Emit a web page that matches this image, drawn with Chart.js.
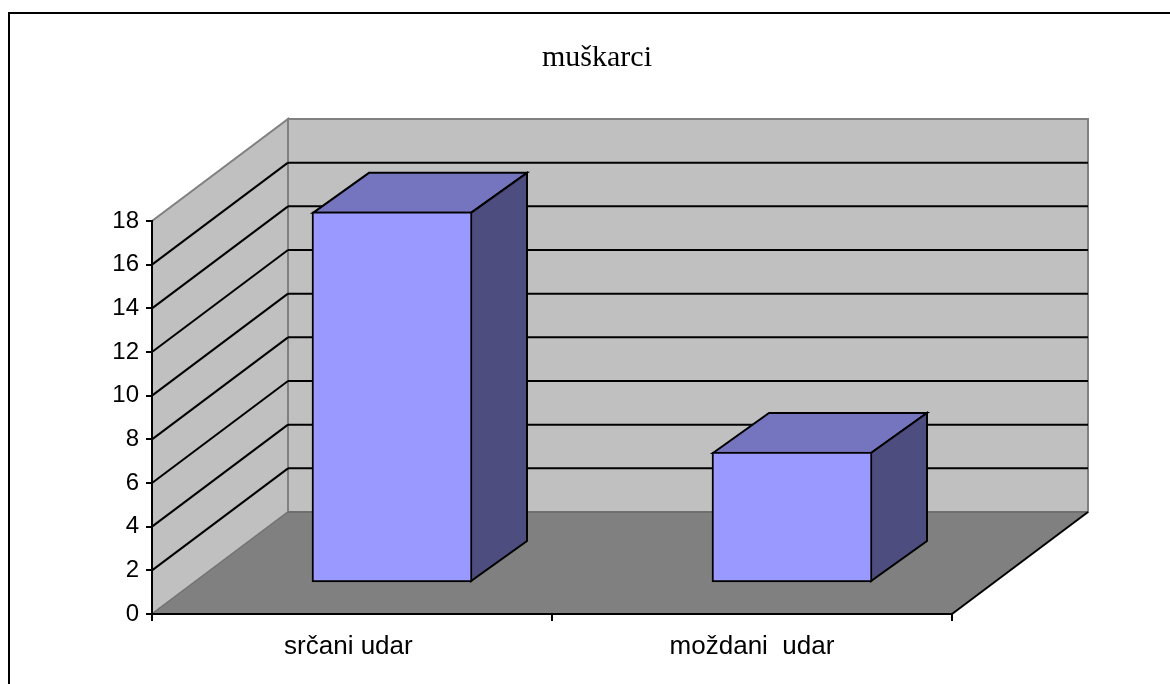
<!DOCTYPE html>
<html>
<head>
<meta charset="utf-8">
<title>muškarci</title>
<script src="https://cdn.jsdelivr.net/npm/chart.js@4"></script>
<style>
  html, body { margin: 0; padding: 0; background: #fff; overflow: hidden; }
  canvas { display: block; }
</style>
</head>
<body>
<canvas id="chart" width="1170" height="684"></canvas>
<script>
// Podaci
const categories = ['srčani udar ', 'moždani  udar'];
const values = [17, 6];
const chartTitle = 'muškarci';

// Pomaci za 3D izgled (dubina poda, pomak stupca, dubina stupca)
const floorDepth = { x: 136, y: -102 };
const barOffset = { x: 40, y: -31 };
const barDepth = { x: 56, y: -40 };

function poly(ctx, pts, fill, stroke, width) {
    ctx.beginPath();
    pts.forEach((p, i) => i ? ctx.lineTo(p[0], p[1]) : ctx.moveTo(p[0], p[1]));
    ctx.closePath();
    if (fill) { ctx.fillStyle = fill; ctx.fill(); }
    if (stroke) { ctx.strokeStyle = stroke; ctx.lineWidth = width; ctx.stroke(); }
}

function line(ctx, x1, y1, x2, y2, color, width) {
    ctx.beginPath();
    ctx.moveTo(x1, y1);
    ctx.lineTo(x2, y2);
    ctx.strokeStyle = color;
    ctx.lineWidth = width;
    ctx.stroke();
}

// Zidovi, pod i okvir se crtaju prije osi
const wallsPlugin = {
    id: 'walls',
    beforeDraw(chart) {
        const ctx = chart.ctx;
        const a = chart.chartArea;
        const y = chart.scales.y;
        const dx = floorDepth.x, dy = floorDepth.y;
        ctx.save();
        ctx.fillStyle = '#fff';
        ctx.fillRect(0, 0, chart.width, chart.height);

        // okvir
        line(ctx, 9, 13, 9, chart.height, '#000', 2);
        line(ctx, 8, 13, chart.width, 13, '#000', 2);

        // stražnji i lijevi zid
        poly(ctx, [[a.left + dx, a.top + dy], [a.right + dx, a.top + dy], [a.right + dx, a.bottom + dy], [a.left + dx, a.bottom + dy]], '#C0C0C0', '#808080', 2);
        poly(ctx, [[a.left, a.bottom], [a.left + dx, a.bottom + dy], [a.left + dx, a.top + dy], [a.left, a.top]], '#C0C0C0', '#808080', 2);

        // linije mreže
        y.ticks.forEach(t => {
            if (t.value === y.min || t.value === y.max) return;
            const py = y.getPixelForValue(t.value);
            line(ctx, a.left, py, a.left + dx, py + dy, '#000', 2);
            line(ctx, a.left + dx, py + dy, a.right + dx, py + dy, '#000', 2);
        });

        // pod
        poly(ctx, [[a.left, a.bottom], [a.left + dx, a.bottom + dy], [a.right + dx, a.bottom + dy], [a.right, a.bottom]], '#808080', null, 0);
        line(ctx, a.left, a.bottom, a.left + dx, a.bottom + dy, '#6e6e6e', 1);
        line(ctx, a.left + dx, a.bottom + dy, a.right + dx, a.bottom + dy, '#6e6e6e', 2);
        line(ctx, a.right, a.bottom, a.right + dx, a.bottom + dy, '#000', 2);
        ctx.restore();
    },
    // Stupci stoje dublje na podu, pa se cijeli sloj pomakne
    beforeDatasetsDraw(chart) {
        const ctx = chart.ctx;
        ctx.save();
        ctx.translate(barOffset.x, barOffset.y);
        chart.getDatasetMeta(0).data.forEach(bar => {
            const l = bar.x - bar.width / 2 + 1, r = bar.x + bar.width / 2 - 1;
            const t = bar.y + 1, b = bar.base - 1;
            const dx = barDepth.x, dy = barDepth.y;
            ctx.lineJoin = 'miter';
            poly(ctx, [[l, t], [l + dx, t + dy], [r + dx, t + dy], [r, t]], '#7575BF', '#000', 2);
            poly(ctx, [[r, t], [r + dx, t + dy], [r + dx, b + dy], [r, b]], '#4D4D80', '#000', 2);
        });
    },
    afterDatasetsDraw(chart) {
        chart.ctx.restore();
    }
};

new Chart(document.getElementById('chart').getContext('2d'), {
    type: 'bar',
    data: {
        labels: categories,
        datasets: [{
            data: values,
            backgroundColor: '#9999FF',
            borderColor: '#000',
            borderWidth: 2,
            borderSkipped: false,
            barThickness: 160,
            clip: false
        }]
    },
    options: {
        responsive: false,
        animation: false,
        layout: { padding: { left: 24, right: 0, top: 0, bottom: 0 } },
        plugins: {
            legend: { display: false },
            tooltip: { enabled: false },
            title: {
                display: true,
                text: chartTitle,
                color: '#000',
                font: { family: '"Liberation Serif", serif', size: 30, weight: 'normal', lineHeight: 1.2 },
                padding: { top: 40, bottom: 145 }
            }
        },
        scales: {
            x: {
                grid: { drawOnChartArea: false, drawTicks: true, tickLength: 7, color: '#000', lineWidth: 2 },
                border: { color: '#000', width: 2 },
                ticks: { color: '#000', padding: 10, font: { family: '"Liberation Sans", sans-serif', size: 26 }, maxRotation: 0 },
                afterFit(scale) { scale.height = 70; }
            },
            y: {
                min: 0,
                max: 18,
                grid: { drawOnChartArea: false, drawTicks: true, tickLength: 6, color: '#000', lineWidth: 2 },
                border: { color: '#000', width: 2 },
                ticks: { stepSize: 2, color: '#000', padding: 7, font: { family: '"Liberation Sans", sans-serif', size: 24 } },
                afterFit(scale) { scale.width = 128; }
            },
            // prazna desna os ostavlja mjesto za dubinu poda
            depth: {
                position: 'right',
                grid: { display: false },
                border: { display: false },
                ticks: { display: false },
                afterFit(scale) { scale.width = 218; }
            }
        }
    },
    plugins: [wallsPlugin]
});
</script>
</body>
</html>
